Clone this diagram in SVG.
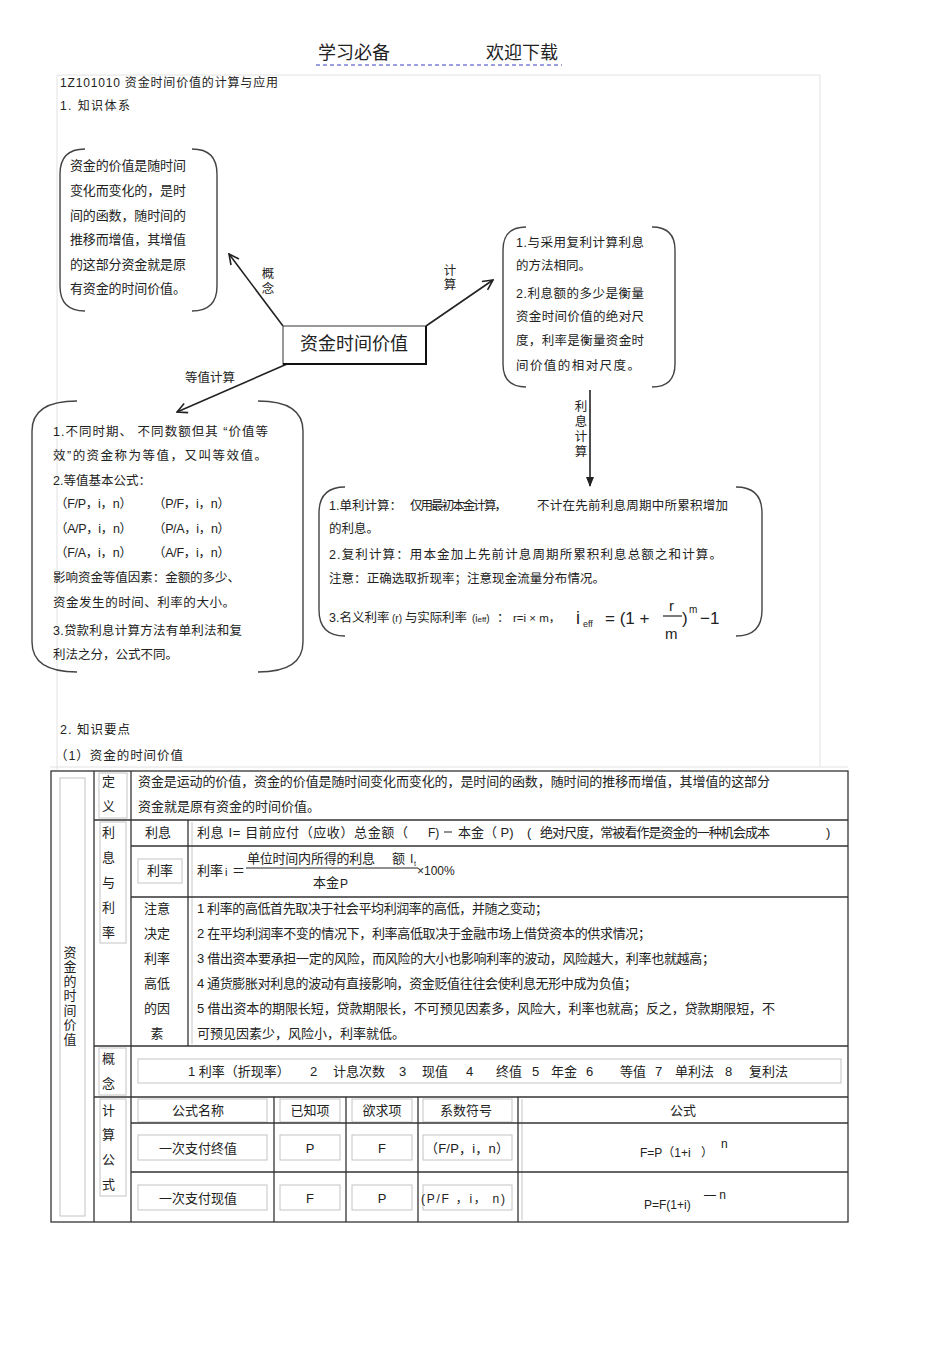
<svg xmlns="http://www.w3.org/2000/svg" width="950" height="1345" viewBox="0 0 950 1345">
<style>
.t{font-family:"Liberation Sans","Noto Sans CJK SC",sans-serif;font-size:12.5px;fill:#222}
.m{font-size:13px}
.c{text-anchor:middle}
.br{fill:none;stroke:#444;stroke-width:1.4}
.g{fill:none;stroke:#333;stroke-width:1.3}
.l{fill:none;stroke:#c4c4c4;stroke-width:1}
.a{fill:none;stroke:#222;stroke-width:1.6}
</style>
<defs>
<marker id="arr" viewBox="0 0 12 12" refX="11" refY="6" markerWidth="12" markerHeight="12" markerUnits="userSpaceOnUse" orient="auto">
<path d="M1,1 L11,6 L1,11" fill="none" stroke="#222" stroke-width="1.6"/>
</marker>
<marker id="tri" viewBox="0 0 10 10" refX="9" refY="5" markerWidth="10" markerHeight="10" markerUnits="userSpaceOnUse" orient="auto">
<path d="M0,1 L10,5 L0,9 Z" fill="#222"/>
</marker>
</defs>
<rect width="950" height="1345" fill="#fff"/>

<g id="header">
<text class="t" x="318" y="59" style="font-size:18px">学习必备</text>
<text class="t" x="486" y="59" style="font-size:18px">欢迎下载</text>
<line x1="316" y1="65" x2="562" y2="65" stroke="#7b7fd8" stroke-width="1.5" stroke-dasharray="4 3"/>
<path d="M57,770 V75 H820 V767" fill="none" stroke="#e2e2e2" stroke-width="1"/>
<line x1="50" y1="767" x2="848" y2="767" stroke="#e2e2e2"/>
<text class="t" x="60" y="87" style="font-size:12px" textLength="218">1Z101010  资金时间价值的计算与应用</text>
<text class="t" x="60" y="110" style="font-size:12px" textLength="70">1.  知识体系</text>
</g>

<g id="connectors">
<line class="a" x1="283" y1="326" x2="229" y2="254" marker-end="url(#arr)"/>
<line class="a" x1="426" y1="326" x2="493" y2="280" marker-end="url(#arr)"/>
<line class="a" x1="287" y1="364" x2="177" y2="412" marker-end="url(#arr)"/>
<line class="a" x1="590" y1="390" x2="590" y2="486" marker-end="url(#tri)"/>
<text class="t c" x="268" y="278">概</text>
<text class="t c" x="268" y="293">念</text>
<text class="t c" x="450" y="275">计</text>
<text class="t c" x="450" y="289">算</text>
<text class="t" x="185" y="382">等值计算</text>
<text class="t c" x="581" y="411">利</text>
<text class="t c" x="581" y="426">息</text>
<text class="t c" x="581" y="441">计</text>
<text class="t c" x="581" y="456">算</text>
</g>

<g id="center">
<rect x="283" y="326" width="143" height="38" fill="#fff" stroke="#555" stroke-width="1.2"/>
<path d="M283,364 H426 V326" fill="none" stroke="#111" stroke-width="2"/>
<text class="t c" x="354" y="350" style="font-size:18px">资金时间价值</text>
</g>

<g id="concept">
<path class="br" d="M85,149 Q60,149 60,174 V286 Q60,311 85,311"/>
<path class="br" d="M192,149 Q217,149 217,174 V286 Q217,311 192,311"/>
<text class="t m" x="70" y="170" textLength="116">资金的价值是随时间</text>
<text class="t m" x="70" y="195" textLength="116">变化而变化的，是时</text>
<text class="t m" x="70" y="219.5" textLength="116">间的函数，随时间的</text>
<text class="t m" x="70" y="244" textLength="116">推移而增值，其增值</text>
<text class="t m" x="70" y="268.5" textLength="116">的这部分资金就是原</text>
<text class="t m" x="70" y="293" textLength="116">有资金的时间价值。</text>
</g>

<g id="calc">
<path class="br" d="M526,227 Q503,227 503,250 V364 Q503,387 526,387"/>
<path class="br" d="M652,227 Q675,227 675,250 V364 Q675,387 652,387"/>
<text class="t" x="516" y="246.5" textLength="128">1.与采用复利计算利息</text>
<text class="t" x="516" y="269.5">的方法相同。</text>
<text class="t" x="516" y="297.5" textLength="128">2.利息额的多少是衡量</text>
<text class="t" x="516" y="320.5" textLength="128">资金时间价值的绝对尺</text>
<text class="t" x="516" y="344.5" textLength="128">度，利率是衡量资金时</text>
<text class="t" x="516" y="369.5" textLength="124">间价值的相对尺度。</text>
</g>

<g id="equiv">
<path class="br" d="M77,401 Q32,401 32,431 V642 Q32,672 77,672"/>
<path class="br" d="M258,401 Q303,401 303,431 V642 Q303,672 258,672"/>
<text class="t" x="53" y="435.5" textLength="215">1.不同时期、 不同数额但其 “价值等</text>
<text class="t" x="53" y="459.5" textLength="214">效”的资金称为等值，又叫等效值。</text>
<text class="t" x="53" y="484.5">2.等值基本公式：</text>
<text class="t" x="55" y="507.5" textLength="77">（F/P，i，n）</text>
<text class="t" x="153" y="507.5" textLength="77">（P/F，i，n）</text>
<text class="t" x="55" y="532.5" textLength="77">（A/P，i，n）</text>
<text class="t" x="153" y="532.5" textLength="77">（P/A，i，n）</text>
<text class="t" x="55" y="556.5" textLength="77">（F/A，i，n）</text>
<text class="t" x="153" y="556.5" textLength="77">（A/F，i，n）</text>
<text class="t" x="53" y="581.5" textLength="187">影响资金等值因素：金额的多少、</text>
<text class="t" x="53" y="606.5" textLength="182">资金发生的时间、利率的大小。</text>
<text class="t" x="53" y="634.5" textLength="189">3.贷款利息计算方法有单利法和复</text>
<text class="t" x="53" y="658.5">利法之分，公式不同。</text>
</g>

<g id="interest">
<path class="br" d="M345,487 Q319,487 319,513 V610 Q319,636 345,636"/>
<path class="br" d="M736,487 Q762,487 762,513 V610 Q762,636 736,636"/>
<text class="t" x="329" y="509.5">1.单利计算：</text>
<text class="t" x="410" y="509.5" textLength="97">仅用最初本金计算，</text>
<text class="t" x="537" y="509.5" textLength="191">不计在先前利息周期中所累积增加</text>
<text class="t" x="329" y="532.5">的利息。</text>
<text class="t" x="329" y="558.5" textLength="393">2.复利计算：用本金加上先前计息周期所累积利息总额之和计算。</text>
<text class="t" x="329" y="582.5" textLength="276">注意：正确选取折现率；注意现金流量分布情况。</text>
<text class="t" x="329" y="621.5">3.名义利率</text>
<text class="t" x="392" y="621.5" style="font-size:10px">(r)</text>
<text class="t" x="405" y="621.5" textLength="62">与实际利率</text>
<text class="t" x="472" y="621.5" style="font-size:10px">(i<tspan style="font-size:8px">eff</tspan>)</text>
<text class="t" x="497" y="621.5">：</text>
<text class="t" x="513" y="621.5" style="font-size:11.5px">r=i × m，</text>
<text class="t" x="576" y="624" style="font-size:18px">i</text>
<text class="t" x="583" y="627" style="font-size:9px">eff</text>
<text class="t" x="605" y="624" style="font-size:17px">= (1 +</text>
<text class="t" x="669" y="611" style="font-size:15px">r</text>
<line x1="663" y1="616" x2="682" y2="616" stroke="#222" stroke-width="1.2"/>
<text class="t" x="665" y="639" style="font-size:15px">m</text>
<text class="t" x="682" y="624" style="font-size:17px">)</text>
<text class="t" x="689" y="613" style="font-size:10px">m</text>
<text class="t" x="700" y="624" style="font-size:17px">−1</text>
</g>

<g id="section2">
<text class="t" x="60" y="734" textLength="70">2.  知识要点</text>
<text class="t" x="55" y="760" textLength="128">（1）资金的时间价值</text>
</g>

<g id="table">
<rect class="l" x="60" y="778" width="25" height="438"/>
<rect class="l" x="99" y="773" width="28" height="45"/>
<rect class="l" x="100" y="822" width="26" height="121"/>
<rect class="l" x="99" y="1048" width="27" height="47"/>
<rect class="l" x="100" y="1099" width="26" height="97"/>
<rect class="l" x="138" y="859" width="44" height="24"/>
<rect class="l" x="138" y="1059" width="703" height="24"/>
<line class="l" x1="192" y1="822" x2="192" y2="1044"/>
<rect class="l" x="138" y="1099" width="129" height="23"/>
<rect class="l" x="280" y="1099" width="60" height="23"/>
<rect class="l" x="352" y="1099" width="60" height="23"/>
<rect class="l" x="423" y="1099" width="89" height="23"/>
<rect class="l" x="138" y="1135" width="129" height="25"/>
<rect class="l" x="280" y="1135" width="60" height="25"/>
<rect class="l" x="352" y="1135" width="60" height="25"/>
<rect class="l" x="423" y="1135" width="89" height="25"/>
<rect class="l" x="138" y="1185" width="129" height="25"/>
<rect class="l" x="280" y="1185" width="60" height="25"/>
<rect class="l" x="352" y="1185" width="60" height="25"/>
<rect class="l" x="423" y="1185" width="89" height="25"/>
<line class="l" x1="522" y1="1099" x2="522" y2="1220"/>
<rect class="g" x="51" y="771" width="797" height="451"/>
<line class="g" x1="94" y1="771" x2="94" y2="1222"/>
<line class="g" x1="131" y1="771" x2="131" y2="1222"/>
<line class="g" x1="94" y1="820" x2="848" y2="820"/>
<line class="g" x1="131" y1="846" x2="848" y2="846"/>
<line class="g" x1="131" y1="897" x2="848" y2="897"/>
<line class="g" x1="94" y1="1046" x2="848" y2="1046"/>
<line class="g" x1="94" y1="1097" x2="848" y2="1097"/>
<line class="g" x1="131" y1="1123" x2="848" y2="1123"/>
<line class="g" x1="131" y1="1172" x2="848" y2="1172"/>
<line class="g" x1="188" y1="820" x2="188" y2="1046"/>
<line class="g" x1="274" y1="1097" x2="274" y2="1222"/>
<line class="g" x1="346" y1="1097" x2="346" y2="1222"/>
<line class="g" x1="418" y1="1097" x2="418" y2="1222"/>
<line class="g" x1="518" y1="1097" x2="518" y2="1222"/>

<g class="t m">
<text x="70" y="956.5" class="c">资</text>
<text x="70" y="971" class="c">金</text>
<text x="70" y="985.5" class="c">的</text>
<text x="70" y="1000" class="c">时</text>
<text x="70" y="1014.5" class="c">间</text>
<text x="70" y="1029" class="c">价</text>
<text x="70" y="1043.5" class="c">值</text>
<text x="102" y="785.5">定</text>
<text x="102" y="810.5">义</text>
<text x="102" y="836.5">利</text>
<text x="102" y="861.5">息</text>
<text x="102" y="886.5">与</text>
<text x="102" y="911.5">利</text>
<text x="102" y="936.5">率</text>
<text x="102" y="1062.5">概</text>
<text x="102" y="1087.5">念</text>
<text x="102" y="1114.5">计</text>
<text x="102" y="1138.5">算</text>
<text x="102" y="1163.5">公</text>
<text x="102" y="1188.5">式</text>
<text x="138" y="785.5" textLength="632">资金是运动的价值，资金的价值是随时间变化而变化的，是时间的函数，随时间的推移而增值，其增值的这部分</text>
<text x="138" y="810.5">资金就是原有资金的时间价值。</text>
<text x="158" y="836.5" class="c">利息</text>
<text x="197" y="836.5" textLength="211">利息  I= 目前应付（应收）总金额（</text>
<text x="428" y="836.5" style="font-size:12px">F)</text>
<line x1="444" y1="832" x2="452" y2="832" stroke="#222" stroke-width="1"/>
<text x="458" y="836.5">本金（ P)</text>
<text x="527" y="836.5">(</text>
<text x="540" y="836.5" textLength="230">绝对尺度，常被看作是资金的一种机会成本</text>
<text x="826" y="836.5">)</text>
<text x="160" y="874.5" class="c">利率</text>
<text x="197" y="874.5">利率</text>
<text x="225" y="876" style="font-size:11px">i</text>
<text x="232" y="874.5">＝</text>
<text x="247" y="863" textLength="128">单位时间内所得的利息</text>
<text x="392" y="863">额</text>
<text x="410" y="863" style="font-size:12px">I</text>
<text x="414" y="866" style="font-size:7px">t</text>
<line x1="246" y1="868" x2="418" y2="868" stroke="#222" stroke-width="1"/>
<text x="313" y="887">本金</text>
<text x="340" y="888" style="font-size:12px">P</text>
<text x="417" y="874.5" style="font-size:12px">×100%</text>
<text x="157" y="913" class="c">注意</text>
<text x="157" y="938" class="c">决定</text>
<text x="157" y="963" class="c">利率</text>
<text x="157" y="988" class="c">高低</text>
<text x="157" y="1013" class="c">的因</text>
<text x="157" y="1038" class="c">素</text>
<text x="197" y="913" textLength="351">1 利率的高低首先取决于社会平均利润率的高低，并随之变动；</text>
<text x="197" y="938" textLength="454">2 在平均利润率不变的情况下，利率高低取决于金融市场上借贷资本的供求情况；</text>
<text x="197" y="963" textLength="518">3 借出资本要承担一定的风险，而风险的大小也影响利率的波动，风险越大，利率也就越高；</text>
<text x="197" y="988" textLength="440">4 通货膨胀对利息的波动有直接影响，资金贬值往往会使利息无形中成为负值；</text>
<text x="197" y="1013" textLength="578">5 借出资本的期限长短，贷款期限长，不可预见因素多，风险大，利率也就高；反之，贷款期限短，不</text>
<text x="197" y="1038">可预见因素少，风险小，利率就低。</text>
<text x="188" y="1076">1 利率（折现率）</text>
<text x="310" y="1076">2</text>
<text x="333" y="1076">计息次数</text>
<text x="399" y="1076">3</text>
<text x="422" y="1076">现值</text>
<text x="466" y="1076">4</text>
<text x="496" y="1076">终值</text>
<text x="532" y="1076">5</text>
<text x="551" y="1076">年金</text>
<text x="586" y="1076">6</text>
<text x="620" y="1076">等值</text>
<text x="655" y="1076">7</text>
<text x="675" y="1076">单利法</text>
<text x="725" y="1076">8</text>
<text x="749" y="1076">复利法</text>
<text x="198" y="1114.5" class="c">公式名称</text>
<text x="310" y="1114.5" class="c">已知项</text>
<text x="382" y="1114.5" class="c">欲求项</text>
<text x="466" y="1114.5" class="c">系数符号</text>
<text x="683" y="1114.5" class="c">公式</text>
<text x="198" y="1152.5" class="c">一次支付终值</text>
<text x="310" y="1152.5" class="c">P</text>
<text x="382" y="1152.5" class="c">F</text>
<text x="467" y="1152.5" class="c" textLength="84">（F/P，i，n）</text>
<text x="640" y="1157" style="font-size:12px">F=P（1+i</text>
<text x="701" y="1157" style="font-size:12px">）</text>
<text x="721" y="1148" style="font-size:12px">n</text>
<text x="198" y="1203" class="c">一次支付现值</text>
<text x="310" y="1203" class="c">F</text>
<text x="382" y="1203" class="c">P</text>
<text x="463" y="1203" class="c" textLength="84" style="font-size:12px">(P/F ，i， n)</text>
<text x="644" y="1209" style="font-size:12px">P=F(1+i)</text>
<text x="704" y="1199" style="font-size:12px">— n</text>
</g>
</g>
</svg>
